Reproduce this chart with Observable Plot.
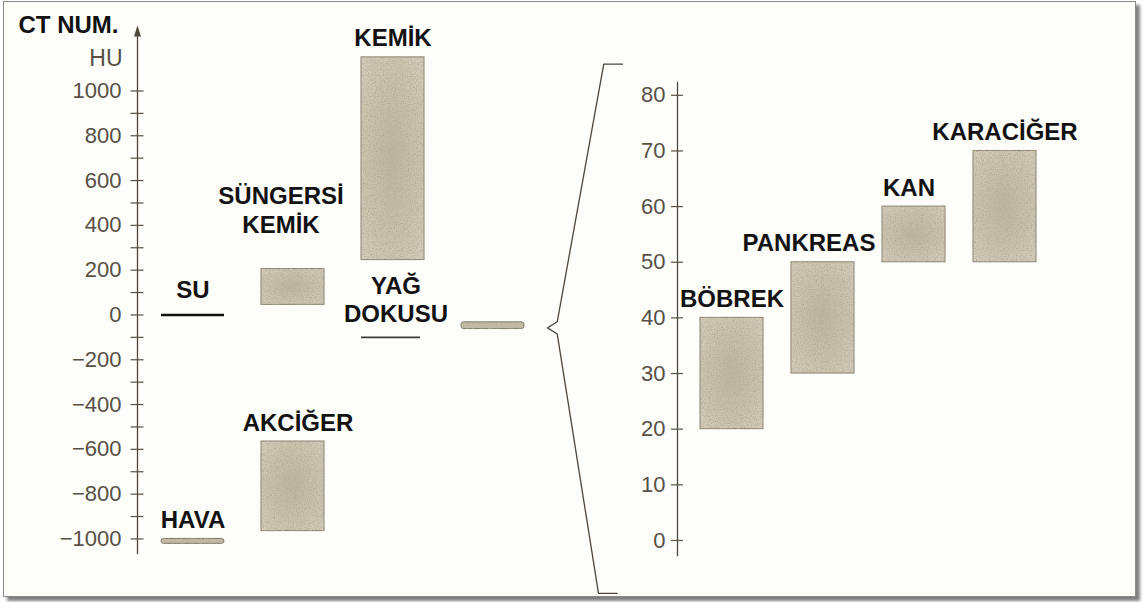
<!DOCTYPE html>
<html><head><meta charset="utf-8">
<script src="https://cdn.jsdelivr.net/npm/d3@7"></script>
<script src="https://cdn.jsdelivr.net/npm/@observablehq/plot@0.6"></script>
<style>
html,body{margin:0;padding:0;background:#fff;}
#chart{position:relative;width:1147px;height:602px;overflow:hidden;background:#fff;}
#chart svg{position:absolute;left:0;top:0;}
#frame{position:absolute;left:3px;top:1px;width:1131px;height:594px;border:1px solid #8a8a8a;background:#fdfdfa;box-shadow:4px 4px 3px rgba(0,0,0,0.5);}
</style></head><body>
<div id="chart"><div id="frame"></div></div>
<script>
// ---------- data ----------
// Left panel: CT numbers in HU
const leftTissues = ["HAVA", "SU", "AKCİĞER", "SÜNGERSİ\nKEMİK", "KEMİK", "YAĞ\nDOKUSU", "YUMUŞAK DOKU"];
const leftColumn  = ["1", "1", "2", "2", "3", "3", "4"];
const leftKind    = ["thin", "line", "bar", "bar", "bar", "line", "thin"];
const leftLow     = [-1022, 0, -965, 45, 245, -100, -63];
const leftHigh    = [-1000, 0, -565, 205, 1150, -100, -33];
const leftLabeled = [true, true, true, true, true, true, false];
const leftTickLabels = [-1000, -800, -600, -400, -200, 0, 200, 400, 600, 800, 1000];
const leftMinorTicks = [-1000, -900, -800, -700, -600, -500, -400, -300, -200, -100, 0, 100, 200, 300, 400, 500, 600, 700, 800, 900, 1000];
const leftAxisExtent = [-1065, 1270];

// Right panel: expanded 0–80 HU soft tissue range
const rightTissues = ["BÖBREK", "PANKREAS", "KAN", "KARACİĞER"];
const rightLow  = [20, 30, 50, 50];
const rightHigh = [40, 50, 60, 70];
const rightTickLabels = [0, 10, 20, 30, 40, 50, 60, 70, 80];
const rightAxisExtent = [-2.7, 82.3];

// Bracket linking the soft-tissue bar to the expanded axis (shape, in right-panel units)
const bracketX = [1, 0.75, 0.13, 0, 0.13, 0.68, 0.93];
const bracketY = [85.6, 85.6, 39.3, 38.2, 37.1, -9.5, -9.5];

// ---------- build tables ----------
const left = leftTissues.map((name, i) => ({name, col: leftColumn[i], kind: leftKind[i], lo: leftLow[i], hi: leftHigh[i], labeled: leftLabeled[i]}));
const right = rightTissues.map((name, i) => ({name, lo: rightLow[i], hi: rightHigh[i]}));
const bracket = bracketX.map((x, i) => ({x, y: bracketY[i]}));

// ---------- styles ----------
const FONT = "'Liberation Sans', Arial, Helvetica, sans-serif";
const svgStyle = `background: transparent; font-family: ${FONT};`;
const axisInk = "#4e473c";
const tickInk = "#5a5246";
const numInk = "#575046";
const labelInk = "#121212";
const barStroke = "#8a836e";
const labelNudge = {
  "SU": [0, -17],
  "SÜNGERSİ\nKEMİK": [-12, -36],
  "YAĞ\nDOKUSU": [3, -15],
  "AKCİĞER": [5, -11],
  "PANKREAS": [-14, -11],
  "KAN": [-5, -11]
};
function labelMarks(rows, xField) {
  return rows.map(d => {
    const [dx, dy] = labelNudge[d.name] || [0, -11];
    return Plot.text([d], {x: xField, y: "hi", text: "name", lineAnchor: "bottom", textAnchor: "middle",
      dx, dy, fontSize: 24, fontWeight: "bold", fill: labelInk, lineHeight: 1.2});
  });
}
// crossing tick marks: a short rule centred on the axis line
function crossTicks(values, plotWidth, marginLeft, half) {
  return Plot.ruleY(values, {y: d => d, stroke: tickInk, strokeWidth: 1.2,
    insetLeft: -half, insetRight: plotWidth - marginLeft - half});
}

// ---------- left plot ----------
const leftPlot = Plot.plot({
  width: 1147, height: 602,
  marginLeft: 137, marginRight: 0, marginTop: 30, marginBottom: 49,
  x: {type: "band", domain: ["1", "2", "3", "4"], range: [160.5, 523.5], paddingInner: 0.37, paddingOuter: 0, axis: null},
  y: {domain: leftAxisExtent, axis: null},
  style: svgStyle,
  marks: [
    Plot.frame({anchor: "left", stroke: axisInk, strokeWidth: 1.3}),
    Plot.vector([0], {frameAnchor: "top-left", shape: "spike", anchor: "start", length: 11, r: 3.5, fill: axisInk, stroke: "none", dy: 6}),
    crossTicks(leftMinorTicks, 1147, 137, 6.5),
    Plot.axisY(leftTickLabels, {tickSize: 7, tickPadding: 9, stroke: "none", fill: numInk, fontSize: 22, tickFormat: d3.format("d"), label: null}),
    Plot.text(["CT NUM."], {frameAnchor: "top-left", text: d => d, textAnchor: "end", lineAnchor: "bottom", dx: -19, dy: 2, fontSize: 24, fontWeight: "bold", fill: labelInk}),
    Plot.text(["HU"], {frameAnchor: "top-left", text: d => d, textAnchor: "end", lineAnchor: "bottom", dx: -15, dy: 35, fontSize: 23, fill: numInk}),
    Plot.barY(left.filter(d => d.kind === "bar"), {x: "col", y1: "lo", y2: "hi", fill: "url(#grainL)", stroke: barStroke, strokeWidth: 1}),
    Plot.barY(left.filter(d => d.kind === "thin"), {x: "col", y1: "lo", y2: "hi", fill: "#c4bda6", stroke: "#7d7765", strokeWidth: 1, rx: 2.5}),
    Plot.tickY(left.filter(d => d.name === "SU"), {x: "col", y: "hi", stroke: "#111", strokeWidth: 2.6}),
    Plot.tickY(left.filter(d => d.kind === "line" && d.name !== "SU"), {x: "col", y: "hi", stroke: "#3d3a35", strokeWidth: 1.6, insetRight: 4}),
    ...labelMarks(left.filter(d => d.labeled), "col")
  ]
});

// ---------- right plot ----------
const rightPlot = Plot.plot({
  width: 1147, height: 602,
  marginLeft: 677, marginRight: 0, marginTop: 82, marginBottom: 47,
  x: {type: "band", domain: rightTissues, range: [700.25, 1036.25], paddingInner: 0.3077, paddingOuter: 0, axis: null},
  y: {domain: rightAxisExtent, axis: null},
  style: svgStyle,
  marks: [
    Plot.frame({anchor: "left", stroke: axisInk, strokeWidth: 1.3}),
    crossTicks(rightTickLabels, 1147, 677, 6),
    Plot.axisY(rightTickLabels, {tickSize: 6, tickPadding: 6, stroke: "none", fill: numInk, fontSize: 22, tickFormat: d3.format("d"), label: null}),
    Plot.barY(right, {x: "name", y1: "lo", y2: "hi", fill: "url(#grainL)", stroke: barStroke, strokeWidth: 1}),
    ...labelMarks(right, "name")
  ]
});

// ---------- bracket overlay ----------
const bracketPlot = Plot.plot({
  width: 1147, height: 602,
  marginLeft: 547, marginRight: 1147 - 622, marginTop: 82, marginBottom: 47,
  x: {domain: [0, 1], axis: null},
  y: {domain: rightAxisExtent, axis: null},
  style: svgStyle,
  marks: [
    Plot.line(bracket, {x: "x", y: "y", stroke: axisInk, strokeWidth: 1.3, strokeLinejoin: "miter"})
  ]
});

leftPlot.insertAdjacentHTML("afterbegin",
  `<defs>
     <radialGradient id="grainL" cx="0.5" cy="0.5" r="0.75">
       <stop offset="0" stop-color="#bdb69f"/><stop offset="0.6" stop-color="#cbc4ae"/><stop offset="1" stop-color="#d6d0be"/>
     </radialGradient>
     <filter id="speckle" x="-3%" y="-3%" width="106%" height="106%">
       <feTurbulence type="fractalNoise" baseFrequency="0.85" numOctaves="2" seed="7" result="noise"/>
       <feColorMatrix in="noise" type="matrix" values="0 0 0 0 0.42  0 0 0 0 0.39  0 0 0 0 0.32  0 0 0 2.2 -0.95" result="dots"/>
       <feComposite in="dots" in2="SourceGraphic" operator="in" result="clipped"/>
       <feMerge><feMergeNode in="SourceGraphic"/><feMergeNode in="clipped"/></feMerge>
     </filter>
   </defs>`);

const chart = document.getElementById("chart");
chart.appendChild(leftPlot);
chart.appendChild(bracketPlot);
chart.appendChild(rightPlot);
for (const svg of [leftPlot, rightPlot]) {
  for (const g of svg.querySelectorAll('g[aria-label="bar"]')) g.setAttribute("filter", "url(#speckle)");
}
</script>
</body></html>
